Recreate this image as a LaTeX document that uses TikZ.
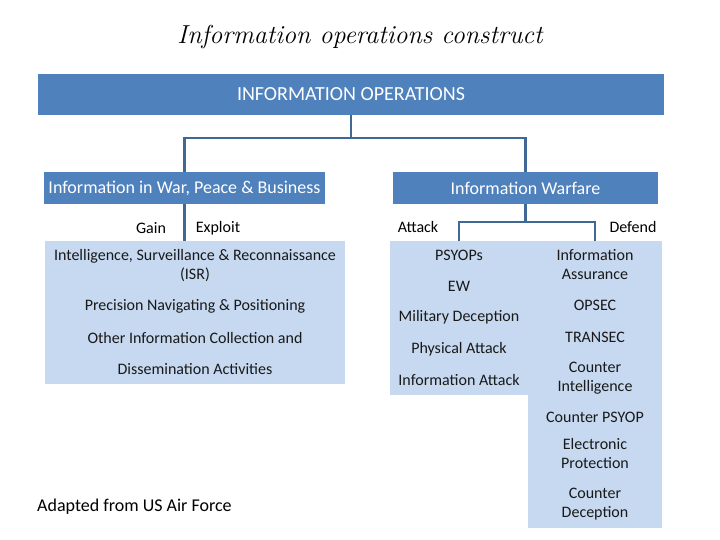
\documentclass[tikz,border=0pt]{standalone}
\usepackage{fontspec}
\setmainfont{Carlito}
\newfontfamily\titlefont{Latin Modern Roman}
\usetikzlibrary{positioning}
\definecolor{iodark}{HTML}{4F81BD}
\definecolor{iolight}{HTML}{C6D9F0}
\definecolor{ioline}{HTML}{3F6896}
\tikzset{
  darkbox/.style={fill=iodark, text=white, inner sep=0pt, font=\fontsize{18}{20}\selectfont},
  lightbox/.style={fill=iolight, inner sep=0pt},
  item/.style={font=\fontsize{16}{19}\selectfont, text=black!90, align=center, inner sep=0pt},
  tag/.style={font=\fontsize{16}{19}\selectfont, inner sep=0pt},
  conn/.style={ioline, line width=2.6pt}
}
\begin{document}
\begin{tikzpicture}[x=1pt, y=-1pt]
  \useasboundingbox (0,0) rectangle (720,540);

  % ==================== 标题 ====================
  \node[font=\titlefont\itshape\fontsize{26}{30}\selectfont] (title) at (360,37) {Information operations construct};

  % ==================== 上层 ====================
  \node[darkbox, font=\fontsize{20}{22}\selectfont, minimum width=626pt, minimum height=41pt] (io) at (351,94.5) {INFORMATION OPERATIONS};
  \node[darkbox, minimum width=281pt, minimum height=32pt] (iwpb) at (184.5,188) {Information in War, Peace \& Business};
  \node[darkbox, minimum width=265pt, minimum height=32pt] (iw) at (525.5,188) {Information Warfare};

  % 连线
  \coordinate (bus) at (351,138);
  \draw[conn] (io.south) -- (bus);
  \draw[conn] (iwpb.north) |- (bus) -| (iw.north);

  % ==================== 左：Gain / Exploit ====================
  \node[lightbox, minimum width=300pt, minimum height=143pt] (gainbox) at (195,312.5) {};
  \draw[conn] (iwpb.south) -- (iwpb.south |- gainbox.north);
  \node[tag] (gain) at (151,228) {Gain};
  \node[tag] (exploit) at (218,228) {Exploit};

  \node[item] (isr) at (195,266) {Intelligence, Surveillance \& Reconnaissance\\(ISR)};
  \node[item] (pnp) at (195,306) {Precision Navigating \& Positioning};
  \node[item] (oic) at (195,338) {Other Information Collection and};
  \node[item] (dis) at (195,369) {Dissemination Activities};

  % ==================== 右：Attack / Defend ====================
  \node[lightbox, minimum width=138pt, minimum height=154pt] (atkbox) at (459,318) {};
  \node[lightbox, minimum width=134pt, minimum height=287pt] (dfdbox) at (595,384.5) {};
  \coordinate (fork) at (525.5,222);
  \draw[conn] (iw.south) -- (fork);
  \draw[conn] (atkbox.north) |- (fork) -| (dfdbox.north);
  \node[tag] (attack) at (418,227) {Attack};
  \node[tag] (defend) at (633,227) {Defend};

  % 攻击
  \node[item] (psy) at (459,255) {PSYOPs};
  \node[item] (ew) at (459,286) {EW};
  \node[item] (mil) at (459,317) {Military Deception};
  \node[item] (phy) at (459,349) {Physical Attack};
  \node[item] (ina) at (459,380) {Information Attack};

  % 防御
  \node[item] (ias) at (595,264.5) {Information\\Assurance};
  \node[item] (ops) at (595,305) {OPSEC};
  \node[item] (trs) at (595,337) {TRANSEC};
  \node[item] (cin) at (595,378) {Counter\\Intelligence};
  \node[item] (cps) at (595,417) {Counter PSYOP};
  \node[item] (elp) at (595,453.5) {Electronic\\Protection};
  \node[item] (cdc) at (595,504) {Counter\\Deception};

  % 出处
  \node[tag, anchor=west, font=\fontsize{18}{20}\selectfont] (src) at (37,507) {Adapted from US Air Force};
\end{tikzpicture}
\end{document}
